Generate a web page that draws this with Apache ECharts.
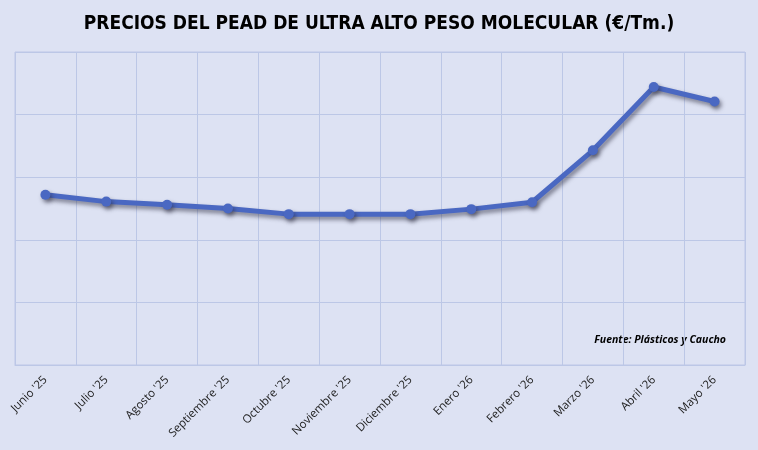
<!DOCTYPE html>
<html>
<head>
<meta charset="utf-8">
<script src="https://cdn.jsdelivr.net/npm/echarts@6/dist/echarts.min.js"></script>
<style>
  html, body { margin: 0; padding: 0; background: #dde2f3; }
  #chart { width: 758px; height: 450px; }
</style>
</head>
<body>
<div id="chart"></div>
<script>
// meses (eje x)
const months = ['Junio \'25', 'Julio \'25', 'Agosto \'25', 'Septiembre \'25', 'Octubre \'25', 'Noviembre \'25',
  'Diciembre \'25', 'Enero \'26', 'Febrero \'26', 'Marzo \'26', 'Abril \'26', 'Mayo \'26']
// precios (escala relativa, el gráfico original no muestra valores)
const prices = [2.72, 2.61, 2.56, 2.50, 2.41, 2.41, 2.41, 2.49, 2.60, 3.43, 4.44, 4.21]

const chart = echarts.init(document.getElementById('chart'))
const option = {
  backgroundColor: '#dde2f3',
  title: {
    text: 'PRECIOS DEL PEAD DE ULTRA ALTO PESO MOLECULAR (€/Tm.)',
    left: 'center',
    top: 10,
    textStyle: {
      fontFamily: 'DejaVu Sans Condensed',
      fontSize: 19,
      fontWeight: 'bold',
      color: '#000'
    }
  },
  grid: {
    left: 15,
    right: 13,
    top: 52,
    bottom: 85,
    show: true,
    borderColor: '#bcc7e6',
    borderWidth: 1
  },
  xAxis: {
    type: 'category',
    data: months,
    boundaryGap: true,
    axisLine: { show: true, lineStyle: { color: '#bcc7e6' } },
    axisTick: { show: false },
    splitLine: { show: true, lineStyle: { color: '#bcc7e6', width: 1 } },
    axisLabel: {
      rotate: 45,
      interval: 0,
      margin: 13,
      color: '#222',
      fontFamily: 'Open Sans',
      fontSize: 11.5
    }
  },
  yAxis: {
    type: 'value',
    min: 0,
    max: 5,
    interval: 1,
    axisLabel: { show: false },
    axisLine: { show: false },
    axisTick: { show: false },
    splitLine: { lineStyle: { color: '#bcc7e6', width: 1 } }
  },
  series: [
    {
      type: 'line',
      data: prices,
      symbol: 'circle',
      symbolSize: 10,
      lineStyle: {
        color: '#4a68c2',
        width: 5,
        shadowColor: 'rgba(40,40,60,0.55)',
        shadowBlur: 4,
        shadowOffsetX: 2,
        shadowOffsetY: 3
      },
      itemStyle: {
        color: '#4a68c2',
        shadowColor: 'rgba(40,40,60,0.55)',
        shadowBlur: 4,
        shadowOffsetX: 2,
        shadowOffsetY: 3
      }
    }
  ],
  graphic: [
    {
      type: 'text',
      right: 32,
      top: 335,
      style: {
        text: 'Fuente: Plásticos y Caucho',
        fontFamily: 'Open Sans',
        fontSize: 10.5,
        fontWeight: 'bold',
        fontStyle: 'italic',
        fill: '#000'
      }
    }
  ]
}
chart.setOption(option)
</script>
</body>
</html>
